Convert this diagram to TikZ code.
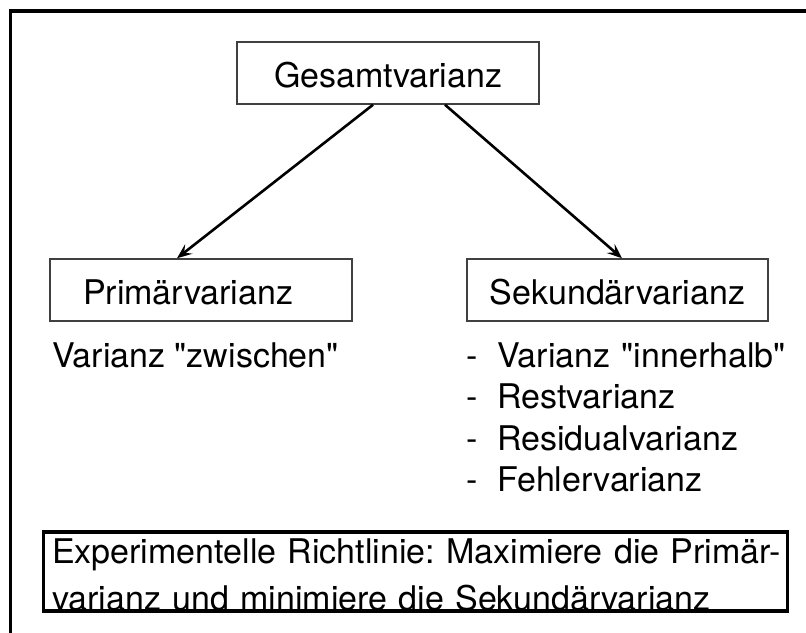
\documentclass[tikz,border=0pt]{standalone}
\usepackage{fontspec}
\setmainfont{TeX Gyre Heros}[Ligatures=TeXOff]
\usetikzlibrary{arrows.meta}
\frenchspacing
\begin{document}
\begin{tikzpicture}[x=1pt,y=-1pt,
  every node/.style={font=\fontsize{34}{41.3}\selectfont, text=black},
  varbox/.style={draw=black!75, line width=1.5pt, inner xsep=0pt, inner ysep=0pt,
                 text height=45pt, text depth=17pt, minimum width=#1},
  link/.style={line width=2.6pt, -{Stealth[length=15pt,width=12pt,inset=6pt]}},
]
\useasboundingbox (0,0) rectangle (806,632);
% frame running off the right and bottom page edges
\draw[line width=3.2pt] (10.5,650) -- (10.5,11) -- (820,11);

% variance components
\node[varbox=302pt, anchor=base] (g) at (388,87) {Gesamtvarianz};
\node[varbox=302pt, anchor=base, text width=302pt, align=left] (p) at (201,304)
  {\hspace*{33pt}Primärvarianz};
\node[varbox=301pt, anchor=base] (s) at (617.5,304) {Sekundärvarianz};

\draw[link] ([xshift=-15pt]g.south) -- ([xshift=-24pt]p.north);
\draw[link] ([xshift=57pt]g.south) -- ([xshift=4.5pt]s.north);

% descriptions
\node[anchor=base west, inner sep=0pt] (zw) at (52,367) {Varianz "zwischen"};
\node[anchor=base west, inner sep=0pt, text width=330pt, align=left] (list) at (466,367.5)
  {\makebox[31pt][l]{-}Varianz "innerhalb"\\
   \makebox[31pt][l]{-}Restvarianz\\
   \makebox[31pt][l]{-}Residualvarianz\\
   \makebox[31pt][l]{-}Fehlervarianz};

% guideline box; the first line is kept whole and runs up to the right border
\node[draw, line width=3.2pt, inner xsep=9pt, inner ysep=0pt, text width=726pt, align=left,
      text height=31pt, text depth=48pt, anchor=base west,
      font=\fontsize{34}{47}\selectfont] (rule) at (41.5,563)
  {\mbox{Experimentelle Richtlinie: Maximiere die Primär-}\\varianz und minimiere die Sekundärvarianz};
\end{tikzpicture}
\end{document}
